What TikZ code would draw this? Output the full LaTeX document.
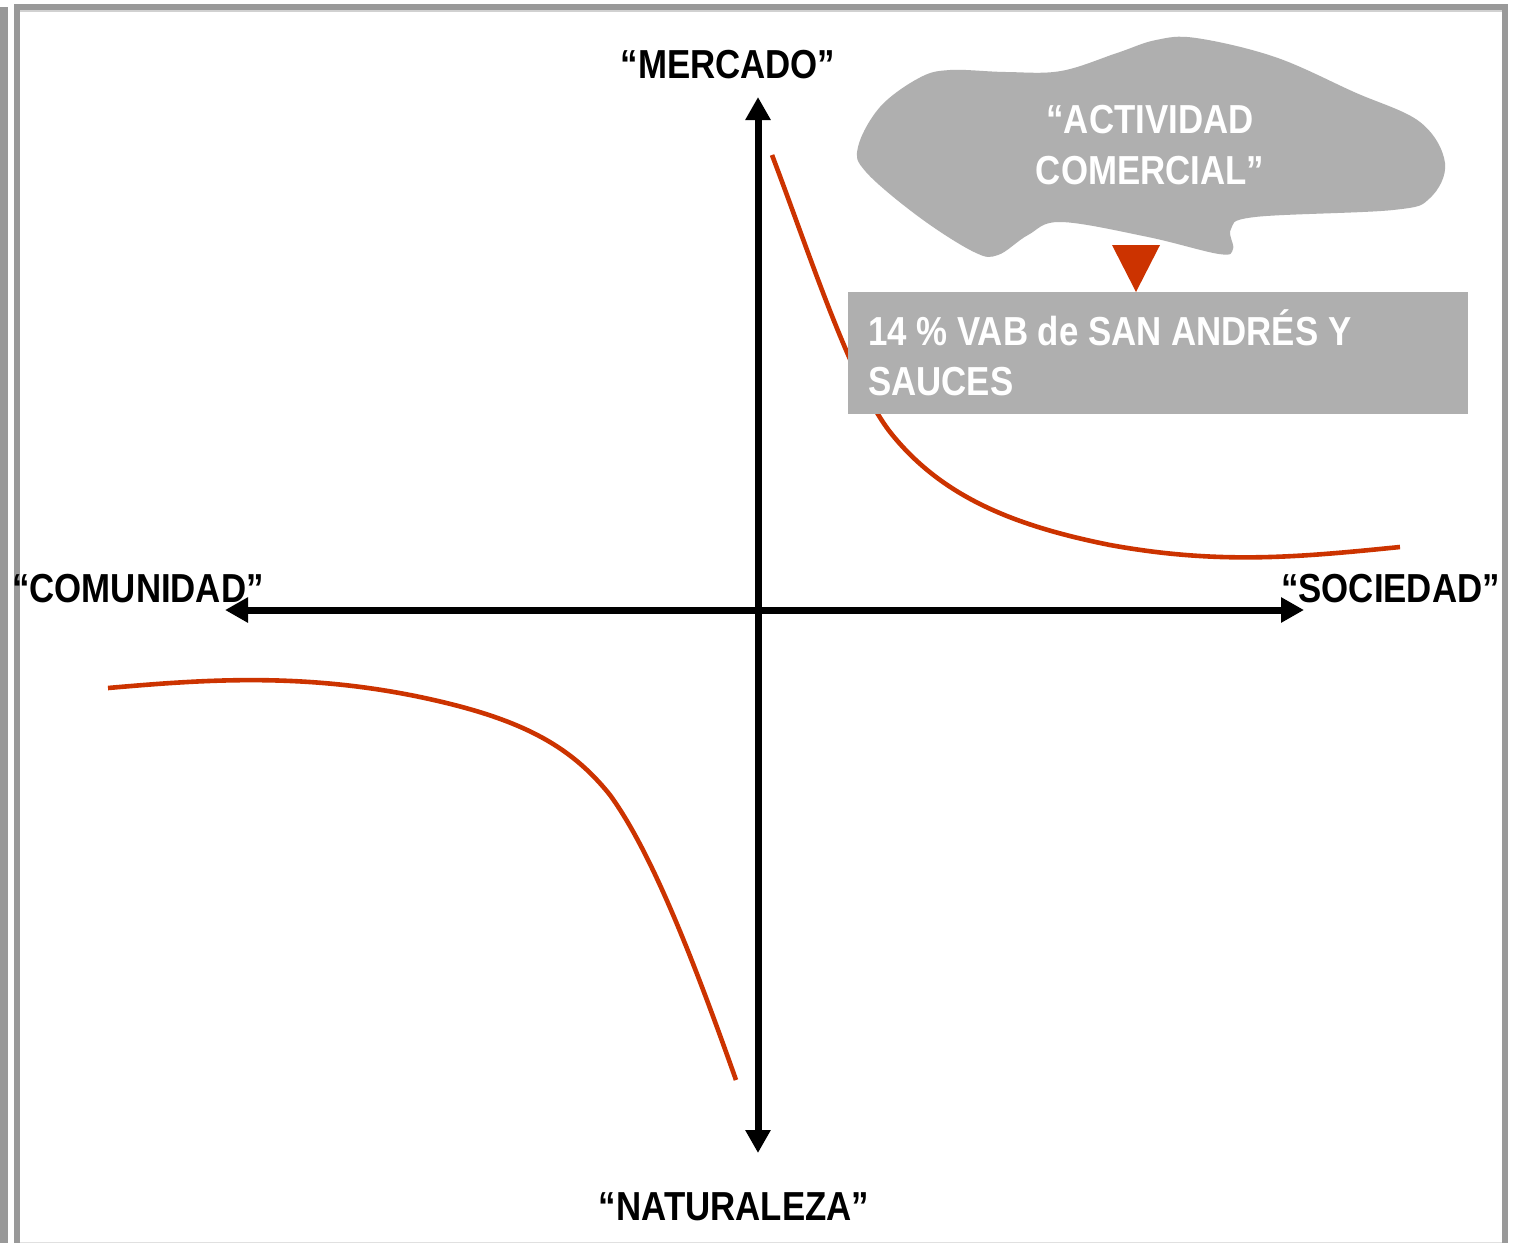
\documentclass[tikz,border=0pt]{standalone}
\usepackage{fontspec}
\setmainfont{Liberation Sans}[FakeStretch=0.86]
\usetikzlibrary{arrows.meta}
\definecolor{framegray}{HTML}{999999}
\definecolor{shadegray}{HTML}{AFAFAF}
\definecolor{rust}{HTML}{CC3300}
\tikzset{
  axis/.style={line width=7pt,{Triangle[length=23pt,width=24pt]}-{Triangle[length=23pt,width=24pt]}},
  trend/.style={rust,line width=4.6pt,line cap=butt},
  axislabel/.style={inner sep=0pt,anchor=base,font=\fontsize{40.5}{50}\selectfont\bfseries},
  whitelabel/.style={axislabel,text=white},
}
\begin{document}
\begin{tikzpicture}[x=1pt,y=-1pt]
  % canvas
  \fill[white] (0,0) rectangle (1518,1243);
  \useasboundingbox (0,0) rectangle (1518,1243);
  % page frame
  \fill[framegray] (0,7) rectangle (8,1243);
  \fill[framegray] (14,4) rectangle (20,1243);
  \fill[framegray] (14,4) rectangle (1508,10);
  \fill[framegray] (1502,4) rectangle (1508,1243);
  \fill[black!18] (20,10) rectangle (1502,11.5);
  \fill[black!12] (20,1241.5) rectangle (1502,1243);

  % trend curves
  \draw[trend] (772,155) .. controls (810,255) and (850,380) .. (890,432)
    .. controls (940,495) and (1010,525) .. (1110,545)
    .. controls (1220,565) and (1300,557) .. (1400,547);
  \draw[trend] (108,688) .. controls (200,680) and (300,672) .. (420,697)
    .. controls (520,718) and (570,745) .. (610,795)
    .. controls (650,850) and (690,950) .. (736,1080);

  % value-added box
  \node[fill=shadegray,inner sep=0pt,minimum width=620pt,minimum height=122pt,anchor=north west]
    (vabbox) at (848,292) {};
  \node[whitelabel,anchor=base west] (vabA) at (868,345) {14 \% VAB de SAN ANDRÉS Y};
  \node[whitelabel,anchor=base west] (vabB) at (868,395) {SAUCES};

  % cloud
  \fill[shadegray] plot[smooth cycle,tension=0.6] coordinates {
    (858,147) (880,107) (919,78) (950,70) (1006,72) (1061,71) (1117,53)
    (1156,40) (1196,38) (1275,57) (1354,92) (1420,122) (1445,163)
    (1430,198) (1393,210) (1255,217) (1231,229) (1233,249) (1219,254)
    (1148,237) (1061,222) (1028,235) (998,255) (974,252) (919,217) (866,172)};
  \node[whitelabel] (cloudA) at (1150,133) {“ACTIVIDAD};
  \node[whitelabel] (cloudB) at (1150,184) {COMERCIAL”};
  \fill[rust] (1112,245) -- (1160,245) -- (1136,292) -- cycle;

  % axes
  \coordinate (ytop) at (758,97);
  \coordinate (ybot) at (758,1153);
  \coordinate (xleft) at (225,610);
  \coordinate (xright) at (1304,610);
  \draw[axis] (ybot) -- (ytop);
  \draw[axis] (xleft) -- (xright);

  % axis labels
  \node[axislabel] (mercado) at (728,78) {“MERCADO”};
  \node[axislabel] (naturaleza) at (734,1220) {“NATURALEZA”};
  \node[axislabel,anchor=base west] (comunidad) at (12,602) {“COMUNIDAD”};
  \node[axislabel,anchor=base east] (sociedad) at (1500,602) {“SOCIEDAD”};
\end{tikzpicture}
\end{document}
